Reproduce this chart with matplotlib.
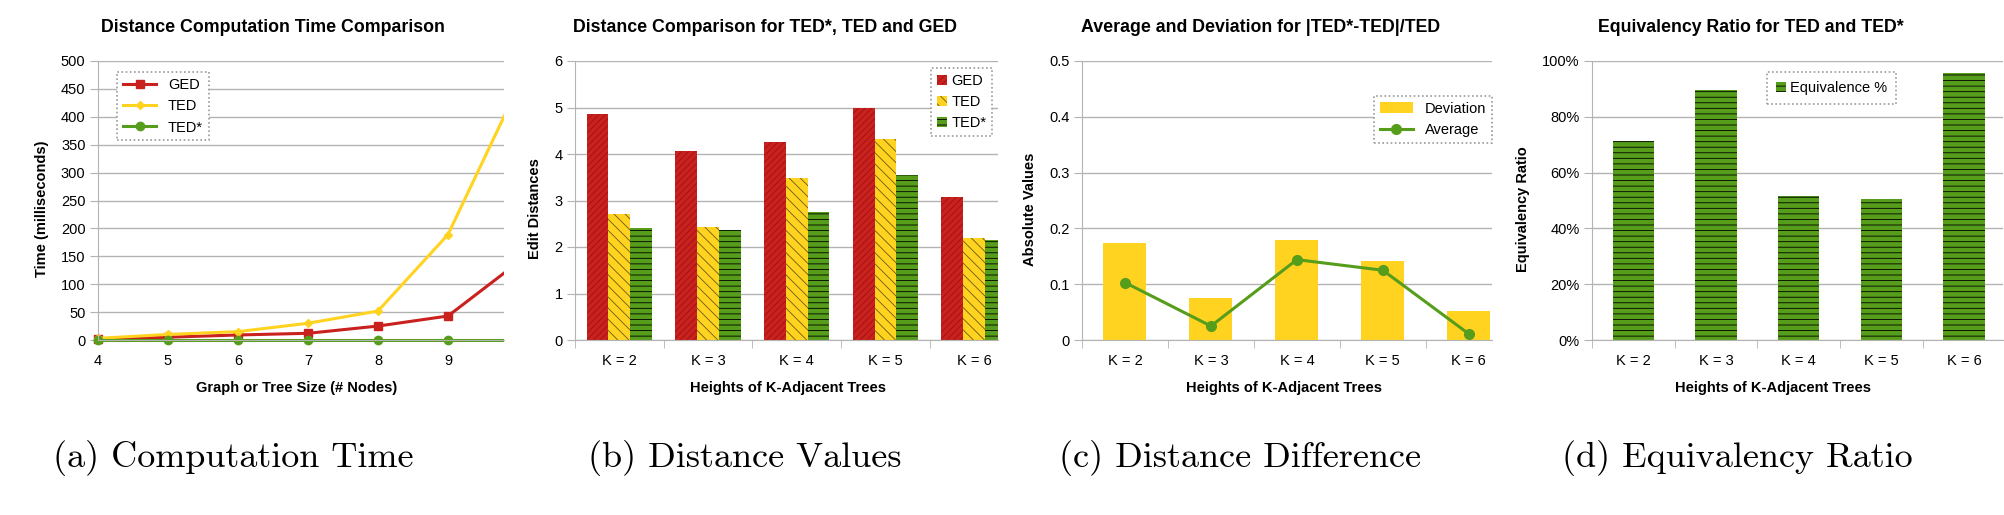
import numpy as np
import matplotlib.pyplot as plt
from matplotlib.patches import Rectangle
from matplotlib.ticker import MultipleLocator, FuncFormatter, PercentFormatter

plt.rcParams['font.family'] = ['Liberation Sans', 'DejaVu Sans']
plt.rcParams['hatch.linewidth'] = 0.6

# (a) tempo de calculo
nodes = [4, 5, 6, 7, 8, 9, 10]
time_ged = [1, 5, 9, 12, 25, 43, 139]
time_ted = [3, 10, 15, 30, 52, 189, 453]
time_tedstar = [0, 0, 0, 0, 0, 0, 0]

# (b) valores de distancia
k_labels = ['K = 2', 'K = 3', 'K = 4', 'K = 5', 'K = 6']
dist_ged = [4.87, 4.06, 4.26, 5.00, 3.07]
dist_ted = [2.70, 2.42, 3.48, 4.32, 2.19]
dist_tedstar = [2.40, 2.37, 2.75, 3.55, 2.15]

# (c) diferenca |TED*-TED|/TED
deviation = [0.174, 0.076, 0.180, 0.142, 0.052]
average = [0.103, 0.025, 0.144, 0.125, 0.011]

# (d) razao de equivalencia (%)
equivalence = [71.3, 89.6, 51.5, 50.4, 95.7]

GRID = '#b3b3b3'
RED, YEL, GRN = '#c9211e', '#ffd320', '#579d1c'
W, H = 2004, 515

fig = plt.figure(figsize=(W / 100, H / 100), dpi=100)


def make_axes(left, right):
    return fig.add_axes([left / W, 1 - 340 / H, (right - left) / W, 279 / H])


def style(ax, ylab, ylab_x):
    for s in ['top', 'right']:
        ax.spines[s].set_visible(False)
    ax.spines['left'].set_color(GRID)
    ax.spines['bottom'].set_color(GRID)
    ax.grid(axis='y', color=GRID, lw=1)
    ax.set_axisbelow(True)
    ax.tick_params(axis='y', length=6, color=GRID, labelsize=10.5, pad=3)
    ax.set_ylabel(ylab, fontsize=10.5, fontweight='bold')
    ax.yaxis.set_label_coords(ylab_x, 0.47)
    ax.yaxis.label.set_va('center')


def xlabel(ax, text, xfrac):
    ax.set_xlabel(text, fontsize=10.5, fontweight='bold')
    ax.xaxis.set_label_coords(xfrac, -0.172)
    ax.xaxis.label.set_va('center')


def cat_axis(ax, xmax):
    x = np.arange(len(k_labels))
    ax.set_xticks(x)
    ax.set_xticklabels(k_labels)
    ax.set_xticks(np.arange(len(k_labels) + 1) - 0.5, minor=True)
    ax.tick_params(axis='x', which='major', length=0, labelsize=10.5, pad=10)
    ax.tick_params(axis='x', which='minor', length=6, color=GRID)
    ax.set_xlim(-0.5, xmax)
    return x


def legend(ax, **kw):
    leg = ax.legend(fancybox=False, framealpha=1, fontsize=10.5,
                    borderaxespad=0, **kw)
    fr = leg.get_frame()
    fr.set_linestyle((0, (1, 1.5)))
    fr.set_edgecolor('#999999')
    fr.set_linewidth(1.2)
    return leg


def title(cx, text):
    fig.text(cx / W, 1 - 28 / H, text, ha='center', va='center',
             fontsize=12.8, fontweight='bold')


def caption(cx, text):
    fig.text(cx / W, 1 - 458 / H, text, ha='center', va='center',
             fontsize=26, family='cmr10')


# ---- (a)
ax = make_axes(98, 504)
style(ax, 'Time (milliseconds)', -0.138)
clip = Rectangle((-0.05, -0.05), 1.05, 1.1, transform=ax.transAxes)
for vals, c, m, ms, lab in [(time_ged, RED, 's', 5.5, 'GED'),
                            (time_ted, YEL, 'D', 4, 'TED'),
                            (time_tedstar, GRN, 'o', 6, 'TED*')]:
    ln, = ax.plot(nodes, vals, color=c, lw=2.2, marker=m, ms=ms, label=lab)
    ln.set_clip_path(clip)
ax.set_xlim(4, 9.8)
ax.set_ylim(0, 500)
ax.yaxis.set_major_locator(MultipleLocator(50))
ax.xaxis.set_major_locator(MultipleLocator(1))
ax.tick_params(axis='x', length=3, color=GRID, labelsize=10.5, pad=7)
xlabel(ax, 'Graph or Tree Size (# Nodes)', 0.488)
legend(ax, loc='upper left', bbox_to_anchor=(0.047, 0.96), handlelength=2.3)
title(273, 'Distance Computation Time Comparison')

# ---- (b)
ax = make_axes(575, 998)
style(ax, 'Edit Distances', -0.0946)
x = cat_axis(ax, 4.27)
w = 0.245
ax.bar(x - w, dist_ged, w, color=RED, edgecolor='#9e1212', hatch='/////', lw=0, label='GED')
ax.bar(x, dist_ted, w, color=YEL, edgecolor='#6b5a10', hatch='\\\\\\', lw=0, label='TED')
ax.bar(x + w, dist_tedstar, w, color=GRN, edgecolor='black', hatch='---', lw=0, label='TED*')
ax.set_ylim(0, 6)
ax.yaxis.set_major_locator(MultipleLocator(1))
xlabel(ax, 'Heights of K-Adjacent Trees', 0.504)
legend(ax, loc='upper right', bbox_to_anchor=(0.986, 0.975), handlelength=0.7,
       handleheight=0.7, handletextpad=0.3)
title(765, 'Distance Comparison for TED*, TED and GED')

# ---- (c)
ax = make_axes(1082, 1492)
style(ax, 'Absolute Values', -0.127)
x = cat_axis(ax, 4.27)
bars = ax.bar(x, deviation, 0.5, color=YEL, lw=0, label='Deviation')
ln, = ax.plot(x, average, color=GRN, lw=2.2, marker='o', ms=7, label='Average')
ax.set_ylim(0, 0.5)
ax.yaxis.set_major_locator(MultipleLocator(0.1))
ax.yaxis.set_major_formatter(FuncFormatter(lambda v, _: f'{v:g}'))
xlabel(ax, 'Heights of K-Adjacent Trees', 0.493)
legend(ax, handles=[bars, ln], loc='upper right', bbox_to_anchor=(1.0, 0.875),
       handlelength=2.3, handleheight=0.7)
title(1261, 'Average and Deviation for |TED*-TED|/TED')

# ---- (d)
ax = make_axes(1592, 2003)
style(ax, 'Equivalency Ratio', -0.168)
x = cat_axis(ax, 4.47)
ax.bar(x, equivalence, 0.5, color=GRN, edgecolor='black', hatch='---', lw=0,
       label='Equivalence %')
ax.set_ylim(0, 100)
ax.yaxis.set_major_locator(MultipleLocator(20))
ax.yaxis.set_major_formatter(PercentFormatter(100, decimals=0))
xlabel(ax, 'Heights of K-Adjacent Trees', 0.44)
legend(ax, loc='upper left', bbox_to_anchor=(0.426, 0.96), handlelength=0.7,
       handleheight=0.7, handletextpad=0.3, borderpad=0.6)
title(1751, 'Equivalency Ratio for TED and TED*')

caption(233, '(a) Computation Time')
caption(745, '(b) Distance Values')
caption(1240, '(c) Distance Difference')
caption(1737, '(d) Equivalency Ratio')

fig.savefig('out.png', dpi=100)
